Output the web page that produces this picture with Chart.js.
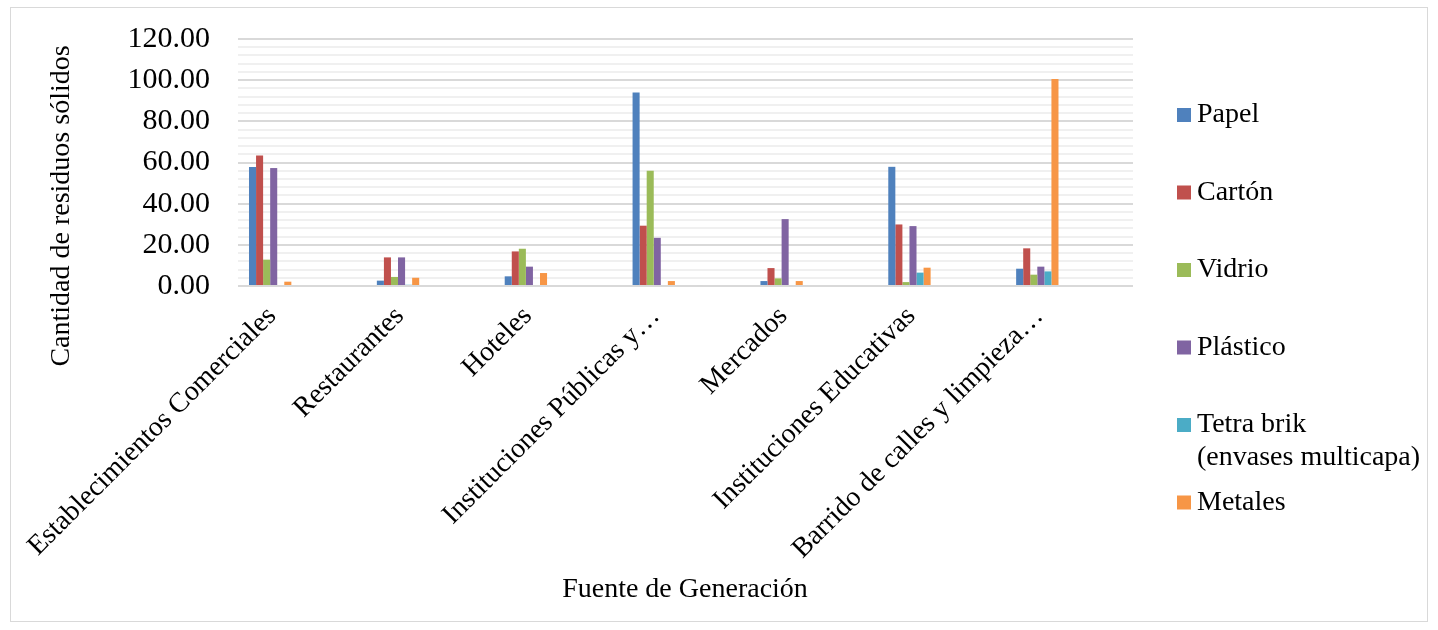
<!DOCTYPE html>
<html>
<head>
<meta charset="utf-8">
<script src="https://cdn.jsdelivr.net/npm/chart.js@4"></script>
<style>
  body { margin: 0; background: #fff; }
  #wrap { position: absolute; left: 10px; top: 7px; width: 1416px; height: 613px; border: 1px solid #d9d9d9; }
</style>
</head>
<body>
<div id="wrap"><canvas id="residuosChart" width="1416" height="613"></canvas></div>
<script>
const categories = ['Establecimientos Comerciales', 'Restaurantes', 'Hoteles', 'Instituciones Públicas y…',
    'Mercados', 'Instituciones Educativas', 'Barrido de calles y limpieza…'];

const papel     = [57.8, 2.6, 4.7, 94.0, 2.4, 57.9, 8.4];
const carton    = [63.4, 13.9, 16.8, 29.3, 8.7, 29.9, 18.3];
const vidrio    = [12.8, 4.4, 18.1, 56.0, 3.7, 1.9, 5.5];
const plastico  = [57.3, 13.9, 9.4, 23.4, 32.5, 29.1, 9.4];
const tetraBrik = [0, 0.6, 0, 0, 0, 6.5, 7.1];
const metales   = [2.1, 4.0, 6.3, 2.4, 2.4, 8.9, 100.6];

// series that exist in the sheet but are left out of the legend (almost all empty)
const otrasSeries = [
    [0, 0, 0, 0, 0, 0, 0],
    [0, 0, 0, 0, 0, 0, 0],
    [0, 0, 0, 0, 0, 0, 0],
    [0, 0, 0, 0.4, 0, 0, 0],
    [0, 0, 0, 0, 0, 0, 0],
    [0, 0, 0, 0, 0, 0, 0],
    [0, 0, 0, 0, 0.5, 0, 0],
    [0, 0, 0, 0, 0, 0, 0],
    [0, 0, 0, 0, 0, 0, 0.5]
];
const otrasColores = ['#d9d9d9', '#d9d9d9', '#d9d9d9', '#d9d9d9', '#d9d9d9', '#d9d9d9', '#d9d9d9', '#d9d9d9', '#fbe5d6'];

const seriesNames = ['Papel', 'Cartón', 'Vidrio', 'Plástico', ['Tetra brik', '(envases multicapa)'], 'Metales'];
const seriesValues = [papel, carton, vidrio, plastico, tetraBrik, metales];
const seriesColors = ['#4f81bd', '#c0504d', '#9bbb59', '#8064a2', '#4bacc6', '#f79646'];

const yTicks = [0, 20, 40, 60, 80, 100, 120];

const FONT = '"Liberation Serif", "Times New Roman", serif';

const datasets = seriesValues.map((vals, i) => ({
    label: seriesNames[i],
    data: vals,
    backgroundColor: seriesColors[i],
    borderWidth: 0
}));
otrasSeries.forEach((vals, i) => {
    datasets.push({ label: 'Serie ' + (i + 7), data: vals, backgroundColor: otrasColores[i], borderWidth: 0 });
});

const titlesAndLegend = {
    id: 'titlesAndLegend',
    afterDraw(chart) {
        const ctx = chart.ctx;
        ctx.save();
        ctx.fillStyle = '#000';
        ctx.font = '28px ' + FONT;
        ctx.textAlign = 'center';
        ctx.textBaseline = 'middle';
        ctx.fillText('Fuente de Generación', 674, 582);
        ctx.save();
        ctx.translate(51, 198);
        ctx.rotate(-Math.PI / 2);
        ctx.fillText('Cantidad de residuos sólidos', 0, 0);
        ctx.restore();

        ctx.textAlign = 'left';
        seriesNames.forEach((name, i) => {
            const y = 107 + i * 77.5;
            ctx.fillStyle = seriesColors[i];
            ctx.fillRect(1166, y - 7, 14, 14);
            ctx.fillStyle = '#000';
            const lines = Array.isArray(name) ? name : [name];
            lines.forEach((ln, j) => ctx.fillText(ln, 1186, y + j * 33));
        });
        ctx.restore();
    }
};

function noPadding(scale) {
    scale.paddingTop = 0;
    scale.paddingBottom = 0;
    scale.paddingLeft = 0;
    scale.paddingRight = 0;
}

new Chart(document.getElementById('residuosChart'), {
    type: 'bar',
    data: { labels: categories, datasets: datasets },
    options: {
        responsive: false,
        animation: false,
        layout: { padding: { top: 31, right: 294, bottom: 0, left: 0 } },
        datasets: { bar: { barPercentage: 1, categoryPercentage: 0.828 } },
        plugins: { legend: { display: false }, tooltip: { enabled: false } },
        scales: {
            x: {
                grid: { display: false },
                border: { display: false },
                afterFit(scale) { scale.height = 335; noPadding(scale); },
                ticks: {
                    color: '#000',
                    font: { family: FONT, size: 28 },
                    minRotation: 45,
                    maxRotation: 45,
                    autoSkip: false,
                    labelOffset: -30,
                    padding: 6
                }
            },
            y: {
                min: 0,
                max: 120,
                border: { display: false },
                afterFit(scale) { scale.width = 227; noPadding(scale); },
                grid: {
                    drawTicks: false,
                    lineWidth: 2,
                    color: c => yTicks.includes(c.tick.value) ? '#d9d9d9' : '#f0f0f0'
                },
                ticks: {
                    stepSize: 4,
                    autoSkip: false,
                    padding: 28,
                    color: '#000',
                    font: { family: FONT, size: 30 },
                    callback: v => yTicks.includes(v) ? v.toFixed(2) : ''
                }
            }
        }
    },
    plugins: [titlesAndLegend]
});
</script>
</body>
</html>
